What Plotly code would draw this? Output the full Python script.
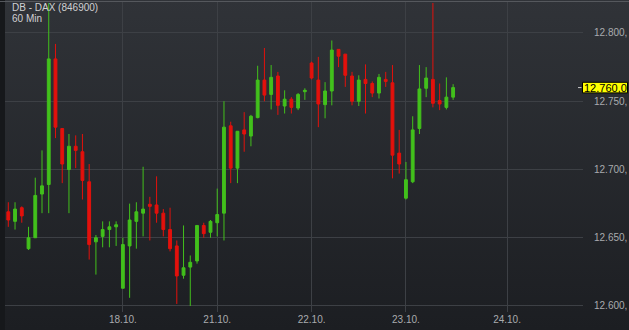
import base64
import plotly.graph_objects as go

# ---- data (DB - DAX, 60 min candles) ----
opens = [12669, 12662, 12672, 12642, 12650, 12682, 12689, 12781, 12730, 12700,
         12717, 12713, 12691, 12647, 12651, 12656, 12658, 12613, 12644, 12662,
         12668, 12674.5, 12674, 12668, 12656, 12644, 12622.5, 12628.5, 12633, 12659,
         12654, 12661, 12668, 12732, 12701, 12729, 12724.5, 12738, 12765.5, 12755,
         12768.5, 12746.5, 12751.5, 12745, 12757, 12778, 12765.5, 12747.5, 12757.5, 12788,
         12784.5, 12768.5, 12750, 12766, 12763, 12756, 12766, 12763.5, 12712, 12679,
         12691, 12730, 12759.5, 12766, 12750.5, 12745.5, 12753]
highs = [12676, 12676, 12673, 12658, 12694, 12714, 12822, 12792, 12730, 12726,
         12725, 12726, 12704, 12652, 12662, 12662, 12662, 12650, 12675, 12676,
         12702, 12680, 12695, 12671, 12672, 12648, 12659, 12637, 12659, 12661,
         12663, 12686, 12750, 12735, 12728, 12742, 12740, 12776, 12789, 12776.5,
         12771.5, 12758, 12753, 12756, 12759.5, 12779, 12782.5, 12764, 12794.5, 12788,
         12784.5, 12771.5, 12769, 12777, 12764.5, 12770, 12771.5, 12776.5, 12729, 12705.5,
         12739, 12776.5, 12775, 12822, 12763, 12767.5, 12762.5]
lows = [12658, 12656, 12661, 12641, 12650, 12668, 12668, 12723, 12690, 12668,
        12701, 12678, 12634, 12623, 12643, 12643, 12644, 12613, 12606, 12642,
        12651, 12648, 12661, 12651, 12640, 12601.5, 12620, 12600, 12631, 12650,
        12650, 12651, 12648, 12690, 12690, 12713, 12717, 12737.5, 12750, 12744,
        12740, 12741, 12741, 12743.5, 12751, 12766, 12731, 12737.5, 12747, 12775,
        12760.5, 12747, 12746.5, 12741, 12753, 12752, 12760.5, 12693.5, 12697, 12678,
        12690, 12726, 12753, 12745.5, 12743.5, 12744, 12751]
closes = [12663, 12671, 12666, 12650, 12681, 12688, 12781, 12731, 12704, 12717,
          12714, 12692, 12645, 12650, 12656, 12658, 12659.5, 12645, 12663, 12669,
          12671, 12673, 12668, 12656, 12642, 12622, 12628, 12632, 12659, 12653,
          12662, 12667, 12731, 12701, 12728, 12726, 12739, 12765.5, 12754.5, 12767.5,
          12747, 12751.5, 12745.5, 12755, 12758, 12767, 12748, 12757.5, 12787.5, 12783,
          12769, 12750, 12765.5, 12763, 12756, 12767.5, 12764.5, 12710.5, 12704, 12692.5,
          12729, 12759, 12767, 12748.5, 12748, 12753, 12760]
candle_idx = list(range(len(closes)))

x_tick_idx = [17, 31, 45, 59, 74]
x_tick_labels = ["18.10.", "21.10.", "22.10.", "23.10.", "24.10."]
y_tick_vals = [12600, 12650, 12700, 12750, 12800]
# right-axis labels as visible in the reference (decimals cut at the window edge)
y_tick_text = ["12.600,", "12.650,", "12.700,", "12.750,", "12.800,"]

title_line1 = "DB - DAX (846900)"
title_line2 = "60 Min"


def de_fmt(v):
    s = f"{v:,.1f}"
    return s.replace(",", "X").replace(".", ",").replace("X", ".")


last_price = closes[-1]

# ---- layout geometry ----
W, H = 629, 330
ML, MR, MT, MB = 5, 46, 2, 18
PW, PH = W - ML - MR, H - MT - MB
y_range = [12595.6, 12822.7]
x_range = [-0.49, 85.27]
px_y = (y_range[1] - y_range[0]) / PH

GREEN = "#42c01c"
RED = "#e3110c"

fig = go.Figure(go.Candlestick(
    x=candle_idx, open=opens, high=highs, low=lows, close=closes,
    increasing=dict(line=dict(color=GREEN, width=1), fillcolor=GREEN),
    decreasing=dict(line=dict(color=RED, width=1), fillcolor=RED),
    whiskerwidth=0, hoverinfo="skip", showlegend=False,
))

svg = ('<svg xmlns="http://www.w3.org/2000/svg" width="10" height="100" viewBox="0 0 10 100" '
       'preserveAspectRatio="none"><defs><linearGradient id="g" x1="0" y1="0" x2="0" y2="1">'
       '<stop offset="0" stop-color="#303338"/><stop offset="1" stop-color="#1c1e22"/>'
       '</linearGradient></defs><rect width="10" height="100" fill="url(#g)"/></svg>')
src = "data:image/svg+xml;base64," + base64.b64encode(svg.encode()).decode()

font = "Liberation Sans, Arial, sans-serif"

fig.update_layout(
    width=W, height=H,
    margin=dict(l=ML, r=MR, t=MT, b=MB, pad=0, autoexpand=False),
    paper_bgcolor="#16181b",
    plot_bgcolor="rgba(0,0,0,0)",
    boxgap=0.4,
    showlegend=False,
    hovermode=False,
    font=dict(family=font, size=10, color="#a9abae"),
    images=[dict(source=src, xref="paper", yref="paper", x=0, y=1 + MT / PH,
                 sizex=(W - ML) / PW, sizey=1 + (MT + MB) / PH,
                 xanchor="left", yanchor="top", sizing="stretch", layer="below")],
    xaxis=dict(range=x_range, tickmode="array", tickvals=x_tick_idx, ticktext=x_tick_labels,
               showgrid=True, gridcolor="#3d4045", gridwidth=1, zeroline=False,
               showline=False, ticks="", rangeslider=dict(visible=False), automargin=False,
               tickfont=dict(size=10, color="#a9abae")),
    yaxis=dict(range=y_range, side="right", tickmode="array", tickvals=y_tick_vals,
               ticktext=y_tick_text, showgrid=True, gridcolor="#3d4045", gridwidth=1,
               zeroline=False, showline=False, ticks="", ticklabelstandoff=10,
               automargin=False, tickfont=dict(size=10, color="#a9abae")),
    shapes=[
        dict(type="line", xref="paper", yref="paper", x0=-ML / PW, x1=(W - ML) / PW,
             y0=1 + 0.5 / PH, y1=1 + 0.5 / PH, line=dict(color="#55585d", width=1)),
        dict(type="line", xref="paper", yref="y", x0=1 - 5 / PW, x1=1 - 1.5 / PW,
             y0=last_price, y1=last_price, line=dict(color="#c8c8c8", width=1)),
        dict(type="rect", xref="paper", yref="y", x0=1 - 0.5 / PW, x1=1 + 44.5 / PW,
             y0=last_price - 5.3 * px_y, y1=last_price + 5.3 * px_y,
             fillcolor="#ffff00", line=dict(color="#000000", width=1)),
    ],
    annotations=[
        dict(text=title_line1, xref="paper", yref="paper", x=5 / PW, y=1 - 5.5 / PH,
             xanchor="left", yanchor="middle", showarrow=False,
             font=dict(size=10, color="#cfd0d2", family=font)),
        dict(text=title_line2, xref="paper", yref="paper", x=5 / PW, y=1 - 16.5 / PH,
             xanchor="left", yanchor="middle", showarrow=False,
             font=dict(size=10, color="#cfd0d2", family=font)),
        dict(text=de_fmt(last_price), xref="paper", yref="y", x=1 + 22 / PW, y=last_price,
             xanchor="center", yanchor="middle", showarrow=False,
             font=dict(size=11, color="#000000", family=font)),
    ],
)

fig.write_html("out.html", config={"displayModeBar": False, "staticPlot": True})
